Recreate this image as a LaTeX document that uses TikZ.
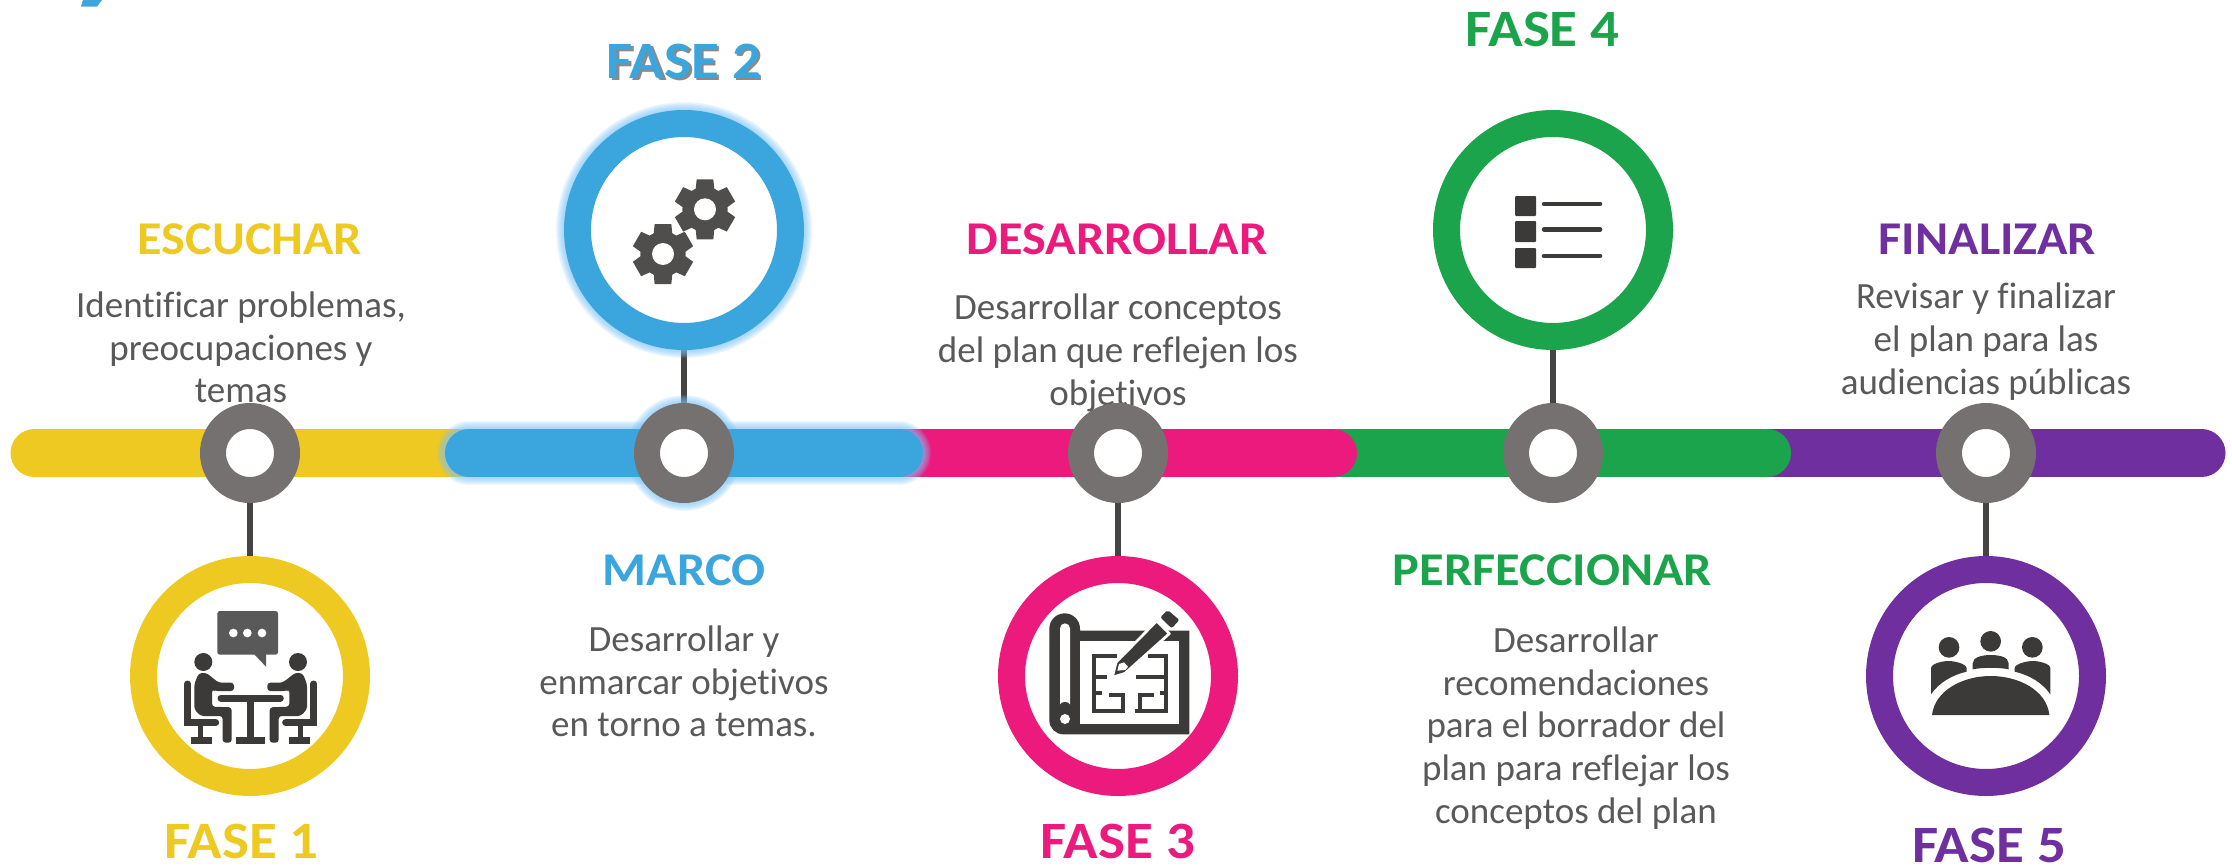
\documentclass[tikz,border=0pt]{standalone}
\usepackage{fontspec}
\setmainfont[Ligatures=NoCommon]{Carlito}
\pgfdeclarelayer{bars}
\pgfdeclarelayer{texts}
\pgfsetlayers{bars,texts,main}
\definecolor{cyel}{HTML}{EDC921}
\definecolor{cblu}{HTML}{3BA5DD}
\definecolor{cpnk}{HTML}{EC1A7D}
\definecolor{cgrn}{HTML}{1BA44C}
\definecolor{cpur}{HTML}{6F2F9F}
\definecolor{chub}{HTML}{767171}
\definecolor{ctxt}{HTML}{595959}
\definecolor{cico}{HTML}{3B3A38}
\definecolor{cglow}{HTML}{7FC4F7}
\definecolor{cshad}{HTML}{8A8A8A}
\tikzset{
  barline/.style={line width=48pt,line cap=round},
  stemline/.style={line width=6pt,color=cico!95!white},
  ringnode/.style={circle,draw=#1,fill=white,line width=27pt,minimum size=213pt,inner sep=0pt},
  hubnode/.style={circle,draw=chub,fill=white,line width=26pt,minimum size=74pt,inner sep=0pt},
  headtext/.style={anchor=base,inner sep=0pt,text=#1,font=\fontsize{47}{52}\selectfont\bfseries\addfontfeature{FakeStretch=1.07}},
  fasetext/.style={anchor=base,inner sep=0pt,text=#1,font=\fontsize{52.5}{58}\selectfont\bfseries\addfontfeature{FakeStretch=1.086}},
  bodytext/.style={anchor=base,inner sep=0pt,text=ctxt,align=center,font=\fontsize{37}{42.6}\selectfont},
  glowfill/.style={fill=cglow,opacity=.13},
}
\newcommand{\sideperson}{%
  \fill[cico] (250,306) circle (27);
  \fill[cico,rounded corners=3pt] (223,372) -- (236,340) -- (258,338) -- (296,368) -- (342,368) -- (342,393) -- (285,393) -- (276,388) -- (276,440) -- (335,442) -- (335,548) -- (308,548) -- (308,468) -- (242,468) -- (223,448) -- cycle;
  \draw[cico,line width=7pt,line cap=round] (202.5,372) -- (202.5,488) -- (287,488);
  \fill[cico] (234,495) rectangle (250,532);
  \fill[cico] (213,530) rectangle (276,552);
}
\newcommand{\gearicon}[2]{%
  \fill[cico!90!white] (#1,#2) circle (68);
  \foreach \a in {0,60,...,300}
    \fill[cico!90!white,shift={(#1,#2)},rotate=\a] (-25,-90) -- (25,-90) -- (34,0) -- (-34,0) -- cycle;
  \fill[white] (#1,#2) circle (33);
}
\begin{document}
\begin{tikzpicture}[x=1pt,y=-1pt]
\useasboundingbox (0,0) rectangle (2232,867);
% rings and hubs
\node[ringnode=cyel] (ring1) at (250,676) {};
\node[ringnode=cblu] (ring2) at (684,230) {};
\node[ringnode=cpnk] (ring3) at (1118,676) {};
\node[ringnode=cgrn] (ring4) at (1553,230) {};
\node[ringnode=cpur] (ring5) at (1986,676) {};
\node[hubnode] (hub1) at (250,453) {};
\node[hubnode] (hub2) at (684,453) {};
\node[hubnode] (hub3) at (1118,453) {};
\node[hubnode] (hub4) at (1553,453) {};
\node[hubnode] (hub5) at (1986,453) {};
\begin{pgfonlayer}{bars}
  \fill[cblu] (83,0) -- (102,0) -- (97,6.6) -- (81,6.6) -- cycle;
  \draw[barline,cpur] (1770,453) -- (2201.5,453);
  \draw[barline,cgrn] (1340,453) -- (1767,453);
  \draw[barline,cpnk] (900,453) -- (1333,453);
  \draw[barline,cyel] (34.5,453) -- (500,453);
  \foreach \i in {1,...,5} \draw[stemline] (hub\i) -- (ring\i);
\end{pgfonlayer}
\begin{pgfonlayer}{texts}
  \node[headtext=cyel] (h1) at (250,254) {ESCUCHAR};
  \node[bodytext] (b1) at (241,402.6) {Identificar problemas,\\preocupaciones y\\temas};
  \node[fasetext=cyel] (f1) at (241.7,858) {FASE 1};
  \node[fasetext=cblu] (f2) at (684,78) {\rlap{\kern2.5pt\raisebox{-2.5pt}{\textcolor{cshad}{FASE 2}}}FASE 2};
  \node[headtext=cblu] (h2) at (684,585) {MARCO};
  \node[bodytext] (b2) at (684,736.7) {Desarrollar y\\enmarcar objetivos\\en torno a temas.};
  \node[headtext=cpnk] (h3) at (1117,254) {DESARROLLAR};
  \node[bodytext] (b3) at (1118,405) {Desarrollar conceptos\\del plan que reflejen los\\objetivos};
  \node[fasetext=cpnk] (f3) at (1118,858) {FASE 3};
  \node[fasetext=cgrn] (f4) at (1542.5,47) {FASE 4};
  \node[headtext=cgrn] (h4) at (1552.5,585) {PERFECCIONAR};
  \node[bodytext] (b4) at (1576,823) {Desarrollar\\recomendaciones\\para el borrador del\\plan para reflejar los\\conceptos del plan};
  \node[headtext=cpur] (h5) at (1987.5,254) {FINALIZAR};
  \node[bodytext] (b5) at (1986,394) {Revisar y finalizar\\el plan para las\\audiencias públicas};
  \node[fasetext=cpur] (f5) at (1989,862) {FASE 5};
  % glow and blue bar
  \coordinate (bluestart) at (469,453);
  \coordinate (blueend) at (899,453);
  \foreach \k in {1,...,8}{
    \draw[cglow,opacity=.13,line width=48pt+2*\k pt,line cap=round] (bluestart) -- (blueend);
    \fill[glowfill] (ring2.center) circle (120+\k);
    \fill[glowfill] (hub2.center) circle (50+\k);
  }
  \draw[barline,cblu] (bluestart) -- (blueend);
\end{pgfonlayer}
% icon 1
\begin{scope}[shift={(120,560)},scale=1/3]
  \fill[ctxt,rounded corners=2.5pt] (292,153) rectangle (474,284);
  \fill[ctxt] (400,280) -- (438,320) -- (438,280) -- cycle;
  \foreach \p in {340,382,426} \fill[white] (\p,219) circle (13);
  \draw[cico,line width=7pt,line cap=round] (303,414) -- (481,414);
  \fill[cico] (380,420) rectangle (403,532);
  \fill[cico] (349,530) rectangle (434,552);
  \sideperson
  \begin{scope}[shift={(784,0)},xscale=-1]\sideperson\end{scope}
\end{scope}
% icon 2
\begin{scope}[shift={(550,110)},scale=1/3]
  \gearicon{465}{298}
  \gearicon{339}{432}
\end{scope}
% icon 3
\begin{scope}[shift={(1000,560)},scale=1/3]
  \fill[cico] (148,206) arc (180:360:46) -- (240,212) -- (568,212) -- (568,523) -- (190,523) arc (90:180:42) -- cycle;
  \fill[white] (240,243) rectangle (537,492);
  \fill[white] (180,205) arc (180:360:15) -- (210,433) -- (205,428) -- (195,425) -- (185,428) -- (180,433) -- cycle;
  \fill[white] (195,477) circle (15);
  \draw[cico,line width=4pt]
    (350,288) -- (281,288) -- (281,454) -- (370,454) -- (370,406) -- (326,406)
    (281,350) -- (322,350)
    (281,400) -- (306,400)
    (445,288) -- (497,288) -- (497,454) -- (420,454) -- (420,406) -- (462,406)
    (420,454) -- (405,454)
    (408,350) -- (497,350)
    (480,400) -- (497,400);
  \fill[cico,draw=white,line width=2.7pt,line join=round] (470,183) -- (508,221) -- (375,340) -- (337,352) -- (348,307) -- cycle;
  \fill[cico,rounded corners=2pt] (503,150) -- (538,180) -- (515,205) -- (481,172) -- cycle;
  \fill[white] (352,332) -- (357,312) -- (372,307) -- (384,320) -- (376,330) -- cycle;
\end{scope}
% icon 4
\begin{scope}[cico]
  \fill[rounded corners=1pt] (1515,196) rectangle (1536,216);
  \fill[rounded corners=1pt] (1515,221) rectangle (1536,242);
  \fill[rounded corners=1pt] (1515,248) rectangle (1536,268);
  \draw[line width=4.5pt,line cap=round] (1544,204) -- (1600,204);
  \draw[line width=4.5pt,line cap=round] (1544,229.5) -- (1600,229.5);
  \draw[line width=4.5pt,line cap=round] (1544,256) -- (1600,256);
\end{scope}
% icon 5
\begin{scope}[shift={(1860,560)},scale=1/3,cico]
  \fill (267,262) circle (31);
  \fill (392,244) circle (31);
  \fill (517,262) circle (31);
  \fill (216,465) .. controls (225,390) and (310,348) .. (392,348) .. controls (475,348) and (560,390) .. (568,465) -- cycle;
  \fill (338,328) -- (338,310) .. controls (338,290) and (370,285) .. (392,285) .. controls (415,285) and (446,290) .. (446,310) -- (446,328) .. controls (420,322) and (365,322) .. (338,328) -- cycle;
  \fill (213,403) -- (213,325) .. controls (213,310) and (250,303) .. (265,303) .. controls (285,303) and (320,312) .. (320,325) -- (320,335) .. controls (275,345) and (235,370) .. (213,403) -- cycle;
  \fill (571,403) -- (571,325) .. controls (571,310) and (534,303) .. (519,303) .. controls (499,303) and (464,312) .. (464,325) -- (464,335) .. controls (509,345) and (549,370) .. (571,403) -- cycle;
\end{scope}
\end{tikzpicture}
\end{document}
